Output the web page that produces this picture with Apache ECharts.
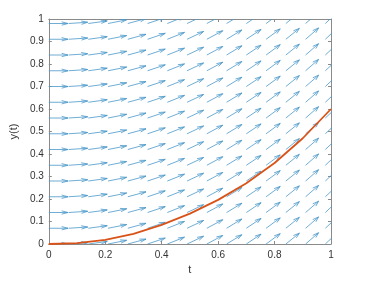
<!DOCTYPE html>
<html><head><meta charset="utf-8">
<script src="https://cdn.jsdelivr.net/npm/echarts@6/dist/echarts.min.js"></script>
<style>html,body{margin:0;padding:0;background:#fff}#c{width:385px;height:281px}</style>
</head><body><div id="c"></div>
<script>
// grid of arrow tails (same for t and y)
const gridT = [0,0.07,0.14,0.21,0.28,0.35,0.42,0.49,0.56,0.63,0.70,0.77,0.84,0.91,0.98];
const gridY = [0,0.07,0.14,0.21,0.28,0.35,0.42,0.49,0.56,0.63,0.70,0.77,0.84,0.91,0.98];
// slope dy/dt read per column (field looks independent of y)
const slopeByT = [0,0.08,0.17,0.25,0.34,0.42,0.50,0.59,0.67,0.76,0.84,0.92,1.01,1.09,1.18];
// solution curve
const curveT = [0,0.1,0.2,0.3,0.4,0.5,0.6,0.7,0.8,0.9,1.0];
const curveY = [0,0.004,0.018,0.045,0.085,0.135,0.196,0.27,0.36,0.47,0.6];
const xTicks = [0,0.2,0.4,0.6,0.8,1];
const yTicks = [0,0.1,0.2,0.3,0.4,0.5,0.6,0.7,0.8,0.9,1];

const arrowLen = 0.068; // display scale of normalized arrows
const arrows = [];
gridY.forEach(y => gridT.forEach((t, i) => {
  const s = slopeByT[i];
  const n = Math.sqrt(1 + s*s);
  arrows.push([t, y, arrowLen/n, arrowLen*s/n]);
}));

const chart = echarts.init(document.getElementById('c'), null, {renderer:'canvas'});
const axisCol = '#8a8a8a';
const font = 'Liberation Sans, Arial, sans-serif';
const xAx = (pos, show) => ({
  type:'value', position:pos, min:0, max:1, interval:0.2,
  axisLine:{show:true,onZero:false,lineStyle:{color:axisCol,width:1}},
  axisTick:{show:true,inside:true,length:3,lineStyle:{color:axisCol}},
  axisLabel:{show:show,color:'#333',fontSize:10,fontFamily:font,margin:6},
  splitLine:{show:false},
  name: show ? 't' : '', nameLocation:'middle', nameGap:17,
  nameTextStyle:{color:'#333',fontSize:11,fontFamily:font}
});
const yAx = (pos, show) => ({
  type:'value', position:pos, min:0, max:1, interval:0.1,
  axisLine:{show:true,onZero:false,lineStyle:{color:axisCol,width:1}},
  axisTick:{show:true,inside:true,length:3,lineStyle:{color:axisCol}},
  axisLabel:{show:show,color:'#333',fontSize:10,fontFamily:font,margin:5,
    formatter:v=>String(Math.round(v*10)/10)},
  splitLine:{show:false},
  name: show ? 'y(t)' : '', nameLocation:'middle', nameGap:17, nameRotate:90,
  nameTextStyle:{color:'#333',fontSize:11,fontFamily:font}
});

chart.setOption({
  animation:false,
  grid:{left:46, top:19, width:285, height:225},
  xAxis:[xAx('bottom',true), xAx('top',false)],
  yAxis:[yAx('left',true), yAx('right',false)],
  series:[
    {
      type:'custom', xAxisIndex:0, yAxisIndex:0, clip:true,
      data: arrows,
      renderItem:(params, api) => {
        const t = api.value(0), y = api.value(1), u = api.value(2), v = api.value(3);
        const p0 = api.coord([t, y]);
        const p1 = api.coord([t+u, y+v]);
        // MATLAB-style barbs (alpha=beta=0.33) in data units
        const a = 0.33, b = 0.33;
        const h1 = api.coord([t+u - a*(u + b*(v)), y+v - a*(v - b*(u))]);
        const h2 = api.coord([t+u - a*(u - b*(v)), y+v - a*(v + b*(u))]);
        const style = {stroke:'#4a98c9', lineWidth:0.8, fill:null};
        return {type:'group', children:[
          {type:'line', shape:{x1:p0[0],y1:p0[1],x2:p1[0],y2:p1[1]}, style},
          {type:'polyline', shape:{points:[h1,p1,h2]}, style}
        ]};
      }
    },
    {
      type:'line', xAxisIndex:0, yAxisIndex:0, showSymbol:false, smooth:false,
      data: curveT.map((t,i)=>[t, curveY[i]]),
      lineStyle:{color:'#D95319', width:1.8}
    }
  ]
});
</script></body></html>
